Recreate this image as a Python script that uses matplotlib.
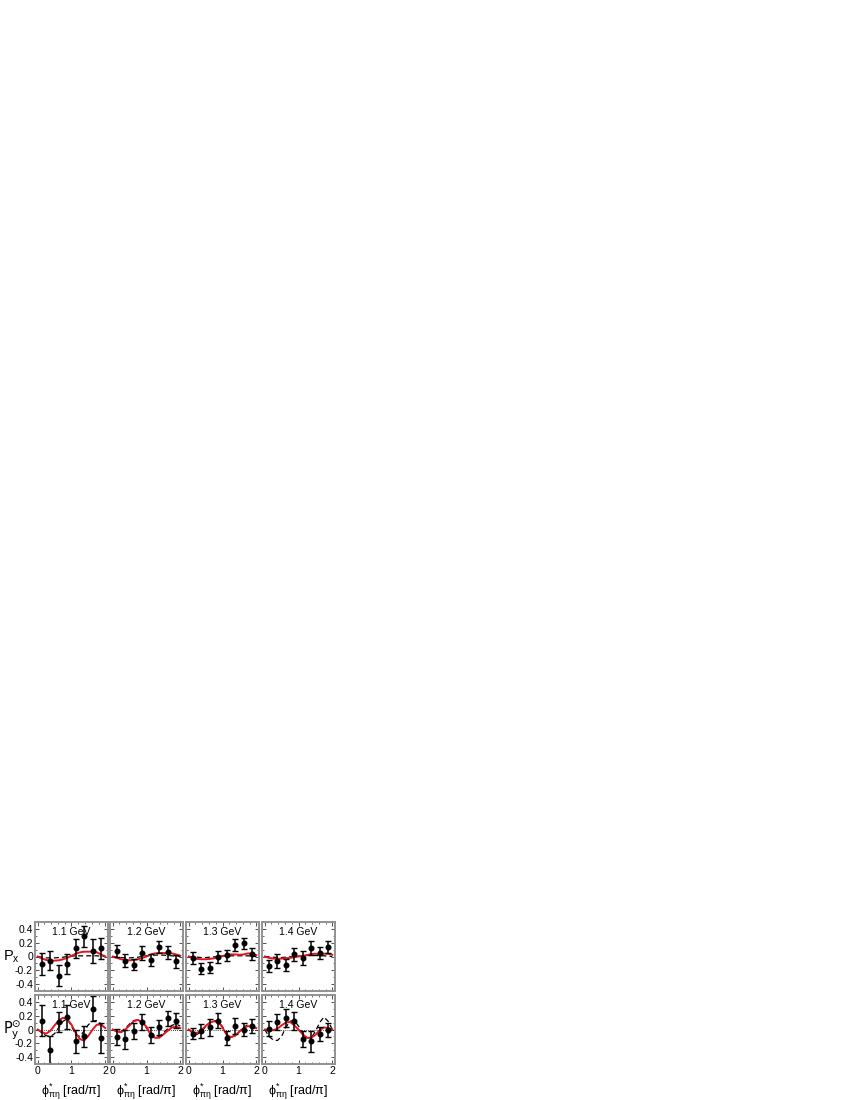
import numpy as np
import matplotlib
matplotlib.use('Agg')
import matplotlib.pyplot as plt
from matplotlib.ticker import MultipleLocator

plt.rcParams['font.family'] = ['Liberation Sans', 'DejaVu Sans']
plt.rcParams['mathtext.fontset'] = 'custom'
plt.rcParams['mathtext.rm'] = 'Liberation Sans'
plt.rcParams['mathtext.it'] = 'Liberation Sans'
plt.rcParams['mathtext.default'] = 'regular'
plt.rcParams['axes.unicode_minus'] = False

energies = ['1.1 GeV', '1.2 GeV', '1.3 GeV', '1.4 GeV']

# data points (bin centres in phi*/pi)
phi_pts = [0.125, 0.375, 0.625, 0.875, 1.125, 1.375, 1.625, 1.875]

px_11 = [-0.11, -0.06, -0.28, -0.11, 0.12, 0.29, 0.08, 0.12]
px_11_err = [0.16, 0.14, 0.15, 0.15, 0.14, 0.15, 0.17, 0.15]
px_12 = [0.08, -0.06, -0.12, 0.05, -0.05, 0.14, 0.06, -0.07]
px_12_err = [0.09, 0.09, 0.08, 0.10, 0.09, 0.09, 0.09, 0.09]
px_13 = [-0.02, -0.18, -0.16, -0.01, 0.02, 0.17, 0.19, 0.04]
px_13_err = [0.09, 0.08, 0.08, 0.09, 0.08, 0.09, 0.08, 0.09]
px_14 = [-0.14, -0.06, -0.12, 0.03, -0.02, 0.12, 0.05, 0.14]
px_14_err = [0.09, 0.10, 0.09, 0.10, 0.10, 0.10, 0.09, 0.09]

py_11 = [0.13, -0.30, 0.11, 0.18, -0.17, -0.10, 0.30, -0.12]
py_11_err = [0.22, 0.20, 0.15, 0.17, 0.17, 0.15, 0.18, 0.22]
py_12 = [-0.11, -0.14, -0.02, 0.11, -0.08, 0.03, 0.16, 0.13]
py_12_err = [0.12, 0.14, 0.12, 0.11, 0.11, 0.11, 0.11, 0.11]
py_13 = [-0.06, -0.02, 0.03, 0.13, -0.12, 0.05, 0.00, 0.05]
py_13_err = [0.08, 0.10, 0.12, 0.11, 0.10, 0.11, 0.10, 0.10]
py_14 = [0.01, 0.11, 0.16, 0.12, -0.14, -0.17, -0.06, -0.01]
py_14_err = [0.11, 0.11, 0.13, 0.13, 0.12, 0.15, 0.10, 0.10]

# model curves
phi_curve = [0, 0.125, 0.25, 0.375, 0.5, 0.625, 0.75, 0.875, 1.0,
             1.125, 1.25, 1.375, 1.5, 1.625, 1.75, 1.875, 2.0]

px_red_11 = [0, -0.03, -0.05, -0.06, -0.06, -0.055, -0.04, -0.02, 0.01, 0.04, 0.06, 0.07, 0.07, 0.07, 0.06, 0.03, 0.0]
px_red_12 = [0, -0.02, -0.04, -0.05, -0.055, -0.05, -0.04, -0.02, 0, 0.03, 0.045, 0.05, 0.05, 0.05, 0.045, 0.03, 0.01]
px_red_13 = [0, -0.02, -0.035, -0.04, -0.04, -0.035, -0.025, -0.01, 0.005, 0.02, 0.03, 0.03, 0.025, 0.03, 0.045, 0.04, 0.02]
px_red_14 = [0, -0.02, -0.03, -0.035, -0.03, -0.025, -0.02, -0.01, 0.0, 0.01, 0.02, 0.035, 0.04, 0.035, 0.04, 0.04, 0.025]
px_dash_11 = [0, -0.01, -0.02, -0.02, -0.02, -0.015, -0.01, 0, 0.005, 0.01, 0.01, 0.01, 0.01, 0.01, 0.01, 0.005, 0]
px_dash_12 = [0, -0.01, -0.015, -0.02, -0.02, -0.015, -0.01, 0, 0.01, 0.015, 0.02, 0.02, 0.02, 0.015, 0.01, 0.005, 0]
px_dash_13 = [0, -0.005, -0.01, -0.015, -0.015, -0.01, -0.005, 0, 0.005, 0.01, 0.01, 0.01, 0.01, 0.01, 0.01, 0.005, 0]
px_dash_14 = [0, -0.005, -0.01, -0.015, -0.015, -0.01, -0.005, 0, 0.005, 0.01, 0.015, 0.015, 0.015, 0.01, 0.01, 0.005, 0]

py_red_11 = [0, -0.04, -0.06, -0.02, 0.06, 0.13, 0.17, 0.15, 0.07, -0.05, -0.14, -0.16, -0.09, 0.0, 0.07, 0.07, 0.02]
py_red_12 = [0, -0.03, -0.04, 0.0, 0.06, 0.12, 0.14, 0.10, 0.04, -0.08, -0.12, -0.12, -0.07, -0.02, 0.03, 0.04, 0.02]
py_red_13 = [0, -0.04, -0.05, -0.01, 0.05, 0.10, 0.12, 0.11, 0.03, -0.08, -0.11, -0.09, -0.03, 0.02, 0.05, 0.04, 0.02]
py_red_14 = [0, -0.01, -0.01, 0.01, 0.06, 0.10, 0.11, 0.06, 0.0, -0.07, -0.12, -0.12, -0.08, -0.01, 0.03, 0.02, 0.0]
py_dash_11 = [0, -0.05, -0.09, -0.10, -0.06, 0.03, 0.12, 0.15, 0.05, -0.08, -0.10, -0.02, 0.07, 0.12, 0.13, 0.08, 0.02]
py_dash_12 = [0, -0.03, -0.03, 0.02, 0.08, 0.13, 0.14, 0.10, 0.02, -0.07, -0.10, -0.10, -0.05, 0.01, 0.06, 0.08, 0.05]
py_dash_13 = [0, -0.06, -0.07, -0.03, 0.04, 0.10, 0.13, 0.12, 0.04, -0.07, -0.11, -0.09, -0.03, 0.03, 0.07, 0.07, 0.02]
py_dash_14 = [0, -0.10, -0.15, -0.16, -0.10, 0.03, 0.12, 0.13, 0.05, -0.06, -0.12, -0.12, -0.03, 0.10, 0.18, 0.12, 0.0]

px_data = [(px_11, px_11_err), (px_12, px_12_err), (px_13, px_13_err), (px_14, px_14_err)]
py_data = [(py_11, py_11_err), (py_12, py_12_err), (py_13, py_13_err), (py_14, py_14_err)]
px_red = [px_red_11, px_red_12, px_red_13, px_red_14]
px_dash = [px_dash_11, px_dash_12, px_dash_13, px_dash_14]
py_red = [py_red_11, py_red_12, py_red_13, py_red_14]
py_dash = [py_dash_11, py_dash_12, py_dash_13, py_dash_14]

W, H = 850., 1100.
fig = plt.figure(figsize=(8.5, 11), dpi=100)

col_left = [35, 110, 186, 262]
pw = 73
rows = [(922, 991), (995, 1064)]


def make_ax(c, r):
    top, bot = rows[r]
    ax = fig.add_axes([col_left[c] / W, 1 - bot / H, pw / W, (bot - top) / H])
    ax.set_xlim(-0.08, 2.08)
    ax.set_ylim(-0.5, 0.5)
    for s in ax.spines.values():
        s.set_color('#929292')
        s.set_linewidth(1.4)
    ax.xaxis.set_major_locator(MultipleLocator(1))
    ax.xaxis.set_minor_locator(MultipleLocator(0.2))
    ax.yaxis.set_major_locator(MultipleLocator(0.2))
    ax.yaxis.set_minor_locator(MultipleLocator(0.1))
    ax.tick_params(which='both', direction='in', top=True, right=True,
                   labelsize=7.5, pad=1.5, color='#333333')
    ax.tick_params(which='major', length=3, width=0.6)
    ax.tick_params(which='minor', length=1.5, width=0.5)
    ax.set_yticks([-0.4, -0.2, 0, 0.2, 0.4])
    ax.set_yticklabels(['-0.4', '-0.2', '0', '0.2', '0.4'])
    ax.set_xticks([0, 1, 2])
    ax.set_xticklabels(['0', '1', '2'])
    if c > 0:
        ax.tick_params(labelleft=False)
    if r == 0:
        ax.tick_params(labelbottom=False)
    ax.text(0.5, 0.93, energies[c], transform=ax.transAxes, ha='center',
            va='top', fontsize=7.5)
    return ax


for c in range(4):
    ax = make_ax(c, 0)
    y, e = px_data[c]
    ax.plot(phi_curve, px_dash[c], color='black', lw=0.9, ls=(0, (4, 2.5)))
    ax.plot(phi_curve, px_red[c], color='#e8141c', lw=1.4)
    ax.errorbar(phi_pts, y, yerr=e, fmt='o', color='black', ms=3.3,
                elinewidth=1.1, capsize=2.2, capthick=1.0)

    ax = make_ax(c, 1)
    y, e = py_data[c]
    ax.axhline(0, color='black', lw=0.6, ls=(0, (1, 1.5)))
    ax.plot(phi_curve, py_dash[c], color='black', lw=0.9, ls=(0, (4, 2.5)))
    ax.plot(phi_curve, py_red[c], color='#e8141c', lw=1.4)
    ax.errorbar(phi_pts, y, yerr=e, fmt='o', color='black', ms=3.3,
                elinewidth=1.1, capsize=2.2, capthick=1.0)
    ax.set_xlabel(r'$\phi^{*}_{\pi\eta}$ [rad/$\pi$]', fontsize=9, labelpad=4)

fig.text(3 / W, 1 - 957 / H, r'$P_{x}$', fontsize=10.5, ha='left', va='center')
fig.text(3 / W, 1 - 1030 / H, r'$P_{y}^{\odot}$', fontsize=10.5, ha='left', va='center',
         family=['DejaVu Sans'])

fig.savefig('out.png', dpi=100)
